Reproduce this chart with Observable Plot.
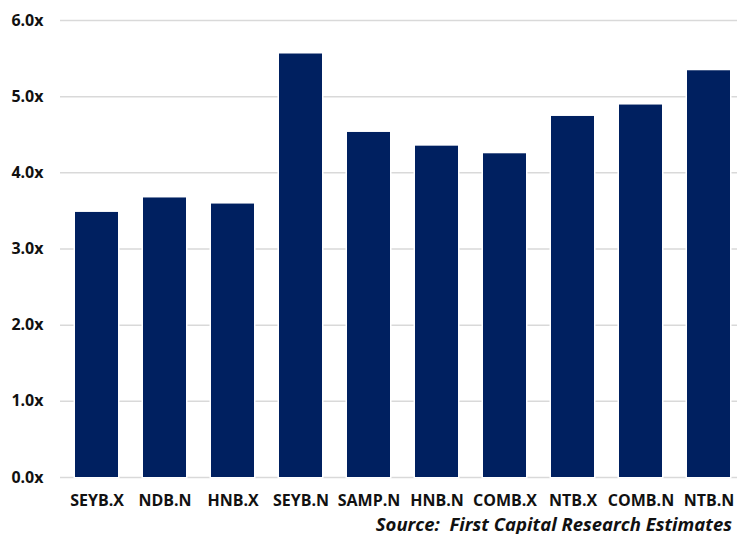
<!DOCTYPE html>
<html>
<head>
<meta charset="utf-8">
<script src="https://cdn.jsdelivr.net/npm/d3@7"></script>
<script src="https://cdn.jsdelivr.net/npm/@observablehq/plot@0.6"></script>
<style>
  html, body { margin: 0; padding: 0; background: #fff; overflow: hidden; }
  #wrap { position: relative; width: 737px; height: 534px; }
  #caption {
    position: absolute; right: 5px; top: 510.5px;
    font-family: "Open Sans", sans-serif; font-weight: 700; font-style: italic;
    font-size: 18.5px; color: #111; white-space: pre; line-height: normal;
  }
</style>
</head>
<body>
<div id="wrap">
  <div id="chart"></div>
  <div id="caption">Source:  First Capital Research Estimates</div>
</div>
<script>
const categories = ["SEYB.X", "NDB.N", "HNB.X", "SEYB.N", "SAMP.N", "HNB.N", "COMB.X", "NTB.X", "COMB.N", "NTB.N"];
const values = [3.48, 3.67, 3.59, 5.56, 4.53, 4.35, 4.25, 4.74, 4.89, 5.34];
const yTicks = [0, 1, 2, 3, 4, 5, 6];

const data = categories.map((c, i) => ({ cat: c, v: values[i] }));

const chart = Plot.plot({
  width: 737,
  height: 510,
  marginTop: 20,
  marginBottom: 33,
  marginLeft: 60,
  marginRight: 0,
  style: { fontFamily: "Open Sans, sans-serif", fontSize: "16px", fontWeight: 700, color: "#111", background: "#fff", overflow: "hidden" },
  x: { type: "band", domain: categories, range: [60.5, 743.8], paddingInner: 0.375, paddingOuter: 0.1875, label: null },
  y: { domain: [0, 6], label: null },
  marks: [
    Plot.ruleY(yTicks, { stroke: "#d9d9d9", strokeWidth: 1.5 }),
    Plot.barY(data, { x: "cat", y: "v", fill: "white", stroke: "white", strokeWidth: 3 }),
    Plot.barY(data, { x: "cat", y: "v", fill: "#002060" }),
    Plot.axisY({ ticks: yTicks, tickFormat: d => d.toFixed(1) + "x", tickSize: 0, tickPadding: 17, fill: "#111" }),
    Plot.axisX({ tickSize: 0, tickPadding: 17, fill: "#111" })
  ]
});
document.getElementById("chart").appendChild(chart);
</script>
</body>
</html>
